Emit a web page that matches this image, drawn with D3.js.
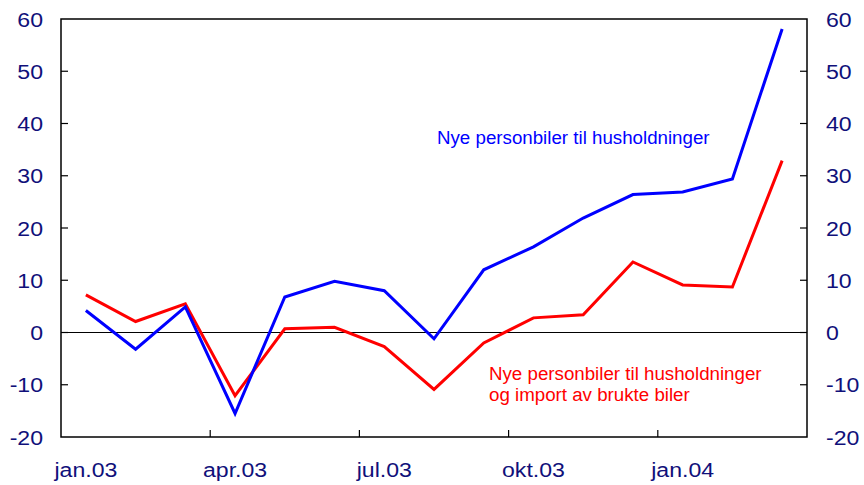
<!DOCTYPE html>
<html>
<head>
<meta charset="utf-8">
<script src="https://cdn.jsdelivr.net/npm/d3@7"></script>
<style>
  body { margin: 0; background: #fff; }
  svg { display: block; }
</style>
</head>
<body>
<svg id="chart" width="864" height="485"></svg>
<script>
const months = ["jan.03", "feb.03", "mar.03", "apr.03", "mai.03", "jun.03", "jul.03", "aug.03",
  "sep.03", "okt.03", "nov.03", "des.03", "jan.04", "feb.04", "mar.04"]
const monthLabels = ["jan.03", "apr.03", "jul.03", "okt.03", "jan.04"]
const newCars = [4.2, -3.2, 4.9, -15.5, 6.8, 9.8, 8.0, -1.2, 12.0, 16.4, 21.9, 26.4, 26.9, 29.4, 58.1]
const newAndUsed = [7.2, 2.1, 5.5, -12.1, 0.7, 1.0, -2.7, -10.9, -2.0, 2.8, 3.4, 13.5, 9.1, 8.7, 32.9]
const yTicks = [-20, -10, 0, 10, 20, 30, 40, 50, 60]

const w = 864
const h = 485
const margin = { top: 19, right: 57, bottom: 48, left: 61 }
const navy = "#10107a"
const font = "'Liberation Sans', Arial, sans-serif"
const stretch = 1.1

const svg = d3.select('#chart')

const x = d3.scaleBand()
  .domain(months)
  .range([margin.left, w - margin.right])

const y = d3.scaleLinear()
  .domain([-20, 60])
  .range([h - margin.bottom, margin.top])

const cx = d => x(d) + x.bandwidth() / 2

// stretched text, the reference is a bit wider than it is tall
const label = (g, tx, ty, txt, anchor, size, color, sx) => g.append('text')
  .attr('transform', `translate(${tx},${ty}) scale(${sx},1)`)
  .attr('text-anchor', anchor)
  .style('font-family', font)
  .style('font-size', size + 'px')
  .attr('fill', color)
  .text(txt)

// zero line
svg.append('line')
  .attr('x1', margin.left).attr('x2', w - margin.right)
  .attr('y1', y(0)).attr('y2', y(0))
  .attr('stroke', 'black').attr('stroke-width', 1.2)

// tick marks
const tickG = svg.append('g').attr('stroke', 'black').attr('stroke-width', 1.2)
yTicks.filter(d => d > -20 && d < 60).forEach(d => {
  tickG.append('line').attr('x1', margin.left).attr('x2', margin.left + 7).attr('y1', y(d)).attr('y2', y(d))
  tickG.append('line').attr('x1', w - margin.right - 7).attr('x2', w - margin.right).attr('y1', y(d)).attr('y2', y(d))
})
months.forEach((m, i) => {
  if (i > 0 && i % 3 == 0) {
    tickG.append('line')
      .attr('x1', x(m)).attr('x2', x(m))
      .attr('y1', h - margin.bottom).attr('y2', h - margin.bottom - 7)
  }
})

// frame
svg.append('rect')
  .attr('x', margin.left).attr('y', margin.top)
  .attr('width', w - margin.left - margin.right)
  .attr('height', h - margin.top - margin.bottom)
  .attr('fill', 'none').attr('stroke', 'black').attr('stroke-width', 1.5)

// axis labels
const labels = svg.append('g')
yTicks.forEach(d => {
  label(labels, 43, y(d) + 7.5, d, 'end', 21, navy, stretch)
  label(labels, 826, y(d) + 7.5, d, 'start', 21, navy, stretch)
})
monthLabels.forEach((m, i) => {
  label(labels, cx(months[i * 3]), 477, m, 'middle', 21, navy, stretch)
})

// series
const line = d3.line()
  .x((d, i) => cx(months[i]))
  .y(d => y(d))

svg.append('path')
  .attr('d', line(newAndUsed))
  .attr('fill', 'none').attr('stroke', '#ff0000').attr('stroke-width', 3)

svg.append('path')
  .attr('d', line(newCars))
  .attr('fill', 'none').attr('stroke', '#0000ff').attr('stroke-width', 3)

// annotations
label(svg, 437, 144, 'Nye personbiler til husholdninger', 'start', 18, '#0000ff', 1.04)
label(svg, 489, 380, 'Nye personbiler til husholdninger', 'start', 18, '#ff0000', 1.04)
label(svg, 489, 400.5, 'og import av brukte biler', 'start', 18, '#ff0000', 1.04)
</script>
</body>
</html>
